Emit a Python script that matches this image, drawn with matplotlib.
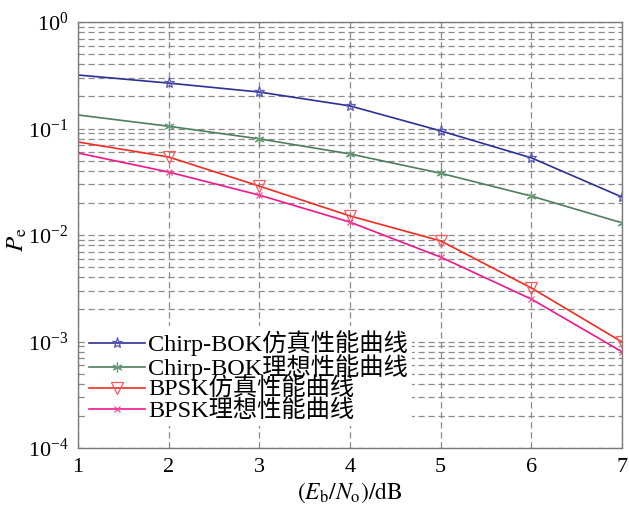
import matplotlib
matplotlib.use("Agg")
import matplotlib.pyplot as plt
from matplotlib.ticker import LogLocator, NullFormatter

plt.rcParams['font.family'] = ['Liberation Serif', 'Noto Sans CJK SC']
plt.rcParams['mathtext.fontset'] = 'stix'

snr_db = [1, 2, 3, 4, 5, 6, 7]
chirp_sim = [0.318, 0.267, 0.220, 0.163, 0.095, 0.053, 0.0227]
chirp_theory = [0.134, 0.105, 0.080, 0.0577, 0.038, 0.0232, 0.013]
bpsk_sim = [0.0747, 0.054, 0.0288, 0.0151, 0.0088, 0.00318, 0.00099]
bpsk_theory = [0.0589, 0.039, 0.0237, 0.0132, 0.0062, 0.0025, 0.0008]

labels = ['Chirp-BOK仿真性能曲线', 'Chirp-BOK理想性能曲线',
          'BPSK仿真性能曲线', 'BPSK理想性能曲线']

fig = plt.figure(figsize=(6.29, 5.12), dpi=100)
ax = fig.add_axes([0.124, 0.125, 0.865, 0.832])

ax.semilogy(snr_db, chirp_sim, color='#2b2f96', lw=1.2, marker='*', ms=8,
            mfc='none', mec='#5a5ab8', mew=0.9, markevery=list(range(1, 7)), label=labels[0])
ax.semilogy(snr_db, chirp_theory, color='#4e7d5e', lw=1.2, marker=(6, 2, 0), ms=7,
            mec='#6a9a78', mew=0.9, markevery=list(range(1, 7)), label=labels[1])
ax.semilogy(snr_db, bpsk_sim, color='#f42a22', lw=1.2, marker='v', ms=9,
            mfc='none', mec='#f55a5a', mew=0.9, markevery=list(range(1, 7)), label=labels[2])
ax.semilogy(snr_db, bpsk_theory, color='#f0168c', lw=1.2, marker='x', ms=5,
            mec='#f04a9a', mew=0.9, markevery=list(range(1, 7)), label=labels[3])

ax.set_xlim(1, 7)
ax.set_ylim(1e-4, 1)
ax.set_xticks(snr_db)
ax.yaxis.set_major_locator(LogLocator(base=10, numticks=10))
ax.yaxis.set_minor_locator(LogLocator(base=10, subs=range(2, 10), numticks=20))
ax.yaxis.set_minor_formatter(NullFormatter())

grid_kw = dict(color='#8a8a8a', lw=0.9, linestyle=(0, (5, 3)))
ax.grid(True, which='major', axis='both', **grid_kw)
ax.grid(True, which='minor', axis='y', **grid_kw)

for s in ax.spines.values():
    s.set_color('#7a7a7a')
    s.set_linewidth(1.0)

ax.tick_params(which='both', length=0, labelsize=16, pad=7)

ax.set_xlabel(r'$(E_\mathrm{b}/N_\mathrm{o})/\mathrm{dB}$', fontsize=17, labelpad=3)
ax.set_ylabel(r'$P_\mathrm{e}$', fontsize=18)
ax.yaxis.set_label_coords(-0.09, 0.49)

leg = ax.legend(loc='lower left', bbox_to_anchor=(0.0, 0.035), frameon=True,
                fontsize=17.5, handlelength=2.3, labelspacing=-0.08,
                handletextpad=0.15, borderpad=0.15, borderaxespad=0.3)
leg.get_frame().set_facecolor('white')
leg.get_frame().set_edgecolor('none')
leg.get_frame().set_alpha(1.0)

fig.savefig('out.png', dpi=100)
